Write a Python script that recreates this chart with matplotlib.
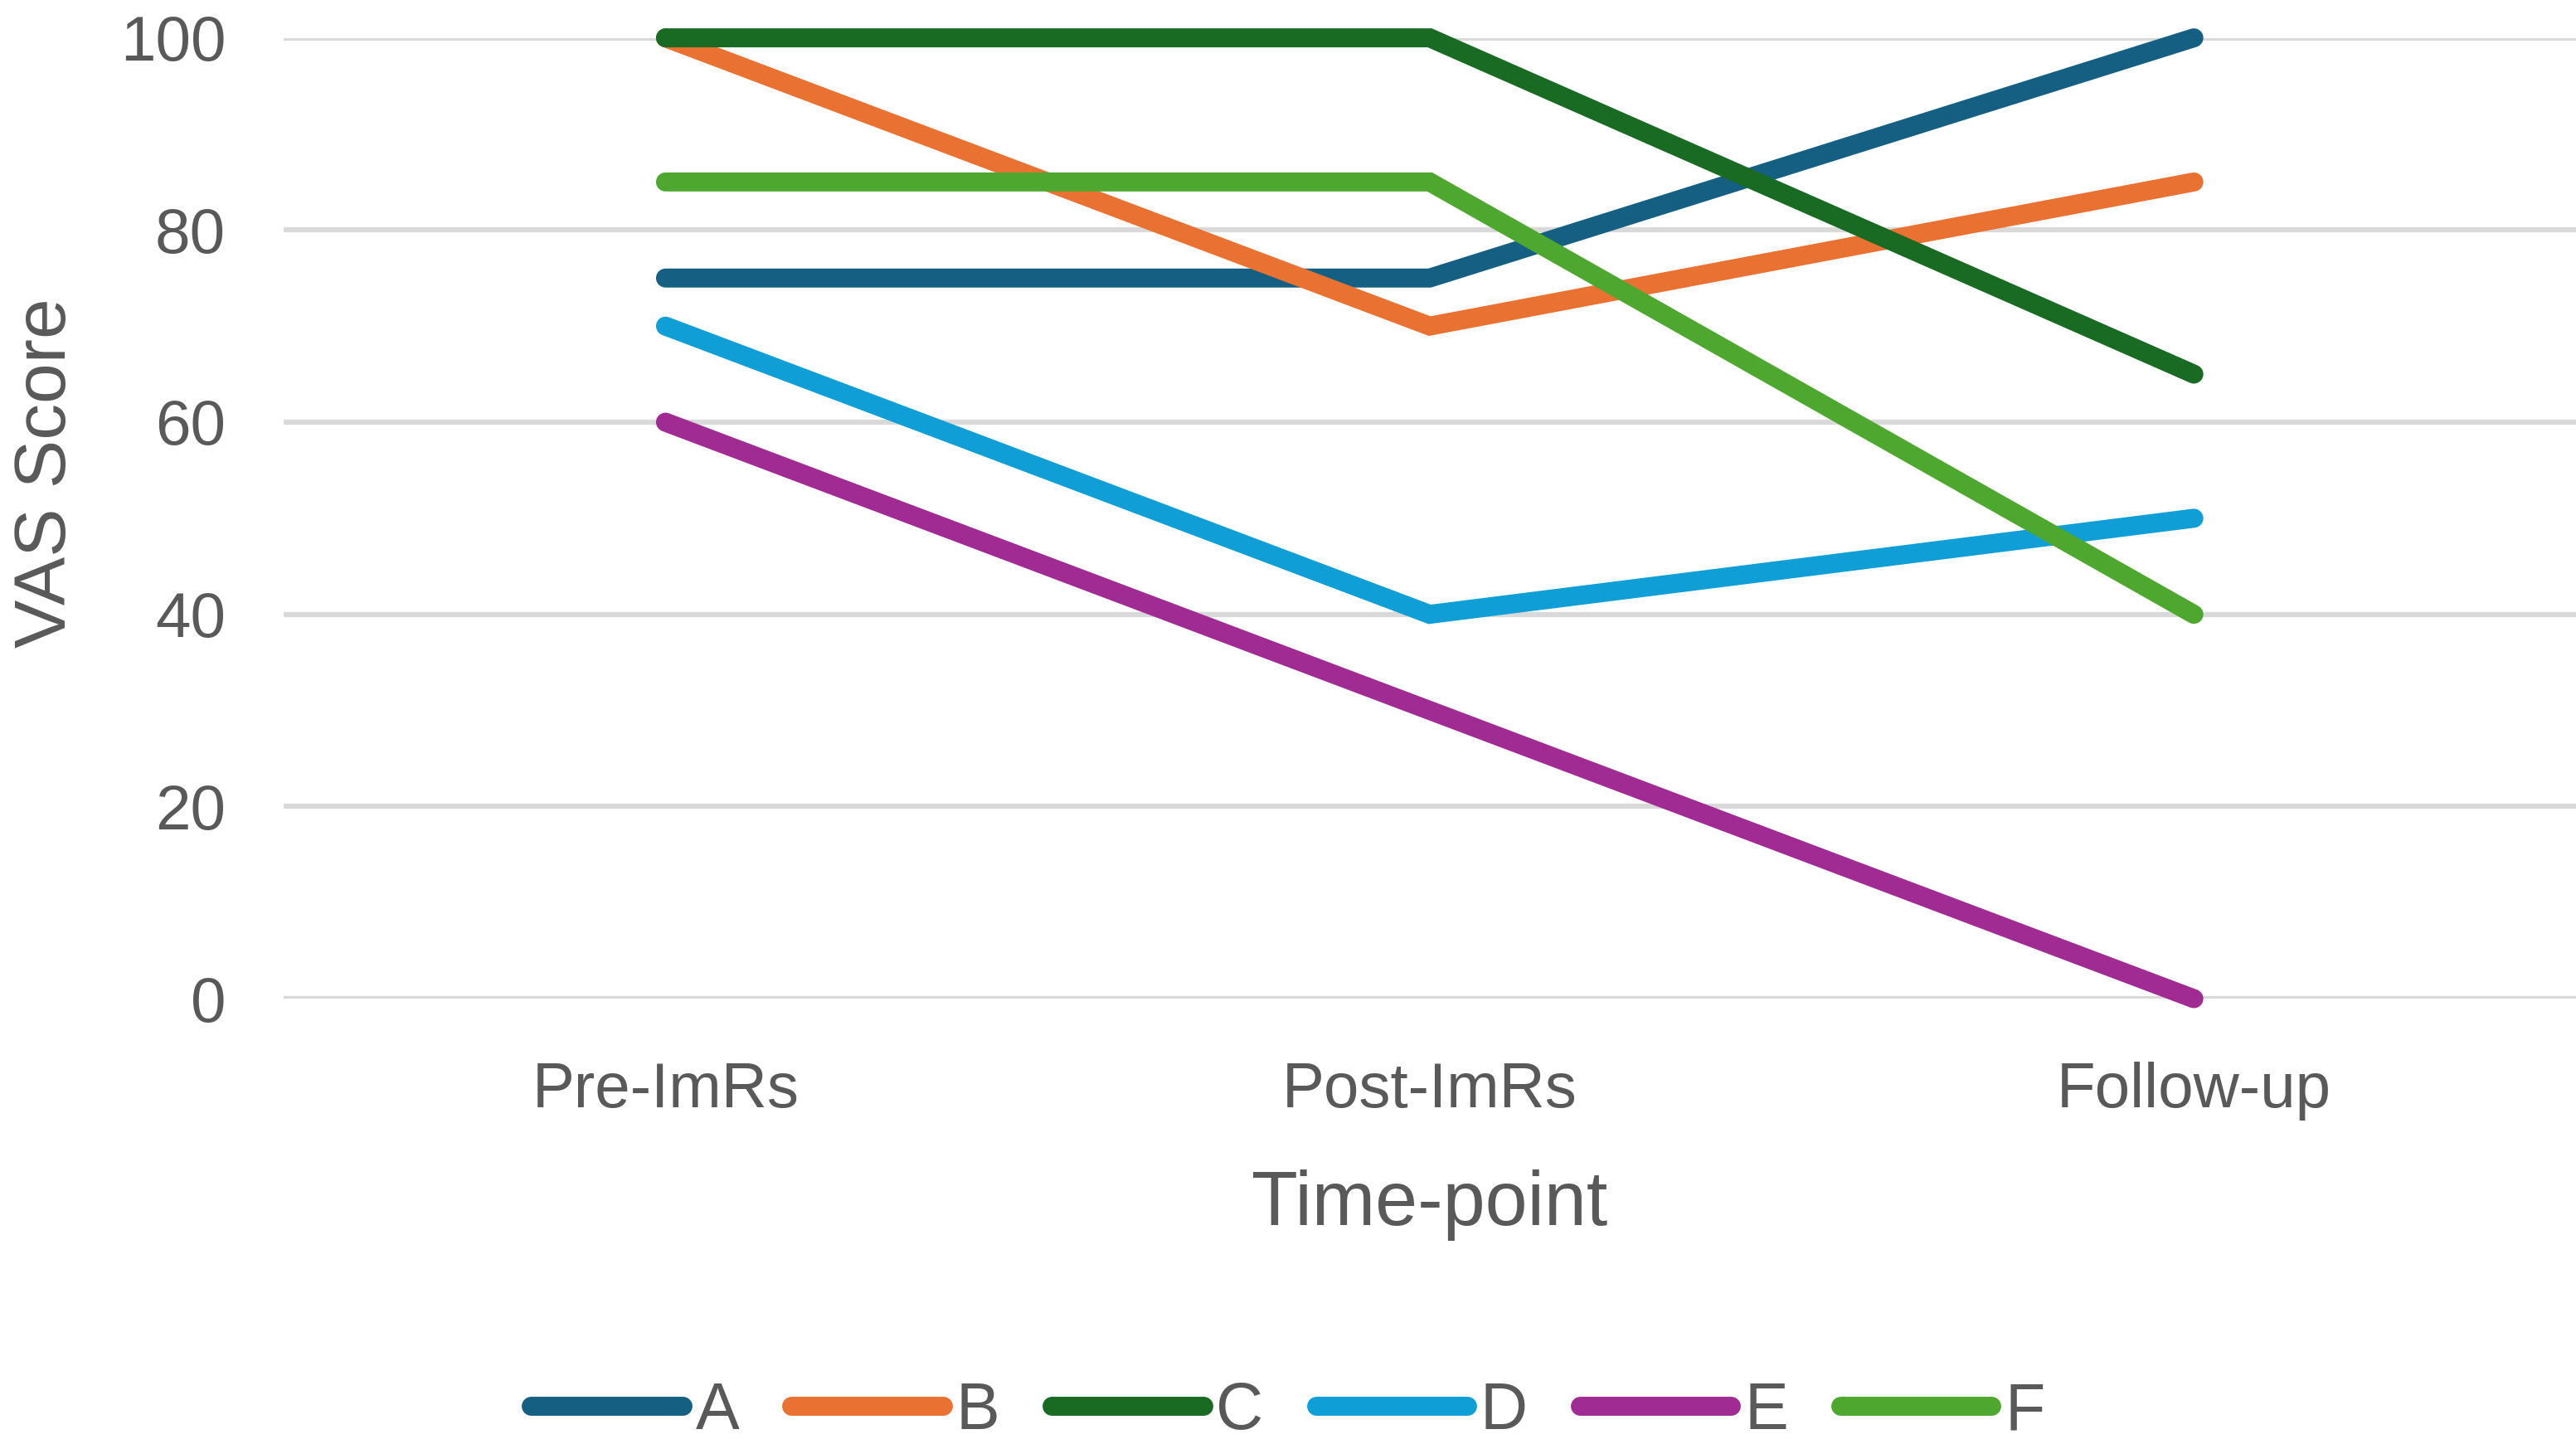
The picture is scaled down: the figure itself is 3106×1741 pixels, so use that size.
import matplotlib

matplotlib.use("Agg")
import matplotlib.pyplot as plt

# Data
timepoints = ["Pre-ImRs", "Post-ImRs", "Follow-up"]
series_names = ["A", "B", "C", "D", "E", "F"]
a_vals = [75, 75, 100]
b_vals = [100, 70, 85]
c_vals = [100, 100, 65]
d_vals = [70, 40, 50]
e_vals = [60, 30, 0]
f_vals = [85, 85, 40]
y_ticks = [0, 20, 40, 60, 80, 100]

# Office-style palette
COLORS = ["#156082", "#E97132", "#196B24", "#0F9ED5", "#A02B93", "#4EA72E"]
TEXT = "#595959"
GRID = "#D9D9D9"

plt.rcParams["font.family"] = ["Liberation Sans", "DejaVu Sans"]

fig = plt.figure(figsize=(31.06, 17.41), dpi=100)
ax = fig.add_axes([0.110, 0.3084, 0.890, 0.6654])

x = list(range(len(timepoints)))
for name, vals, col in zip(series_names,
                           [a_vals, b_vals, c_vals, d_vals, e_vals, f_vals],
                           COLORS):
    ax.plot(x, vals, color=col, linewidth=16.5, label=name,
            solid_capstyle="round", solid_joinstyle="miter", clip_on=False)

ax.set_xlim(-0.5, len(timepoints) - 0.5)
ax.set_ylim(0, 100)
ax.set_yticks(y_ticks)
ax.set_xticks(x)
ax.set_xticklabels(timepoints)
ax.yaxis.grid(True, color=GRID, linewidth=4.5)
ax.set_axisbelow(True)
for spine in ax.spines.values():
    spine.set_visible(False)
ax.tick_params(axis="both", length=0, labelsize=55, colors=TEXT)
ax.tick_params(axis="y", pad=50)
ax.tick_params(axis="x", pad=55)

ax.set_xlabel("Time-point", fontsize=66, color=TEXT, labelpad=42)
ax.set_ylabel("VAS Score", fontsize=63, color=TEXT)
ax.yaxis.set_label_coords(-0.0885, 0.547)

leg = fig.legend(loc="center", bbox_to_anchor=(0.5, 0.022), ncol=6,
                 frameon=False, fontsize=57, handlelength=2.3,
                 handletextpad=0.2, columnspacing=0.8, labelcolor=TEXT)

fig.savefig("out.png", dpi=100, facecolor="white")
plt.close(fig)
